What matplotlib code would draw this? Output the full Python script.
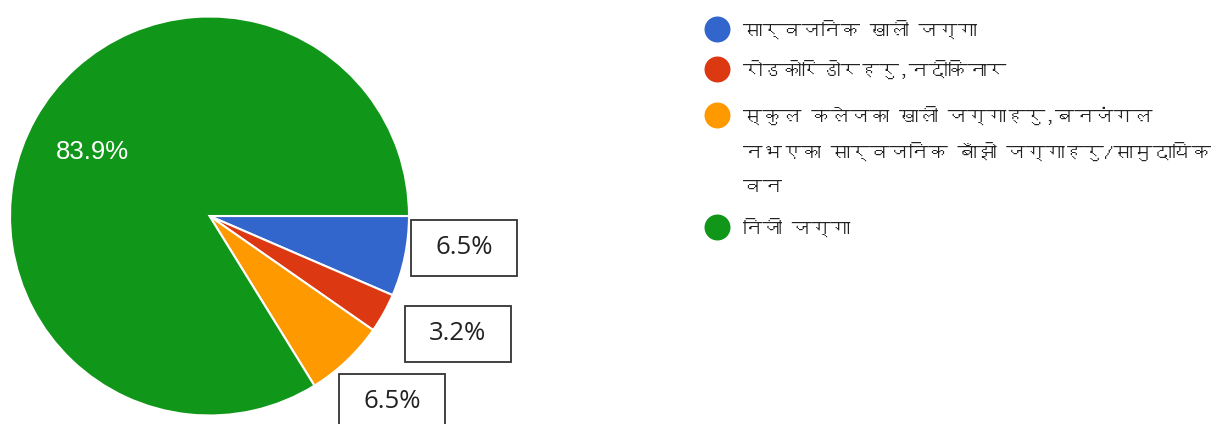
import matplotlib
matplotlib.use("Agg")
import matplotlib.pyplot as plt
from matplotlib.patches import Rectangle
from matplotlib import font_manager, ft2font

# ---- data ----
categories = [
    "सार्वजनिक खाली जग्गा",
    "रोडकोरिडोरहरु,नदीकिनार",
    "स्कुल कलेजका खाली जग्गाहरु,बनजंगल\nनभएका सार्वजनिक बाँझो जग्गाहरु/सामुदायिक\nवन",
    "निजी जग्गा",
]
values = [6.5, 3.2, 6.5, 83.9]
pct_labels = ["6.5%", "3.2%", "6.5%", "83.9%"]
colors = ["#3366CC", "#DC3912", "#FF9900", "#109618"]

# ---- find a font with Devanagari glyphs if any ----
deva = None
for f in font_manager.fontManager.ttflist:
    try:
        ft = ft2font.FT2Font(f.fname)
        if 0x0915 in ft.get_charmap():
            deva = f.name
            break
    except Exception:
        pass
legend_family = [deva, "DejaVu Sans"] if deva else ["DejaVu Sans"]

W, H = 1217, 424
fig = plt.figure(figsize=(W / 100, H / 100), dpi=100)

def fx(px):
    return px / W

def fy(py):
    return 1 - py / H

# pie axes
cx, cy, r = 209.5, 216, 199.5
ax = fig.add_axes([fx(cx - r), fy(cy + r), 2 * r / W, 2 * r / H])
wedges, _ = ax.pie(values, colors=colors, startangle=0, counterclock=False,
                   radius=1, wedgeprops=dict(edgecolor="white", linewidth=1.5))
ax.set_xlim(-1, 1)
ax.set_ylim(-1, 1)
ax.set_aspect("auto")
ax.axis("off")

# inside label for big slice
fig.text(fx(92), fy(152), pct_labels[3], color="white", fontsize=18.5,
         family="Liberation Sans", ha="center", va="center")

# boxed labels for small slices (box center positions in pixels)
box_pos = [(464, 248), (457.5, 334), (392, 402)]
bw, bh = 106, 56
for (bx, by), lab in zip(box_pos, pct_labels[:3]):
    fig.add_artist(Rectangle((fx(bx - bw / 2), fy(by + bh / 2)), bw / W, bh / H,
                             transform=fig.transFigure, facecolor="white",
                             edgecolor="#333333", linewidth=1.3))
    fig.text(fx(bx), fy(by), lab, color="#222222", fontsize=18.5,
             family="Open Sans", ha="center", va="center")

# legend
leg_y = [29, 69, 115, 227]
line_h = 36
for y, lab, c in zip(leg_y, categories, colors):
    fig.add_artist(plt.Line2D([fx(717)], [fy(y)], marker="o", markersize=18.7,
                              color=c, markeredgewidth=0,
                              transform=fig.transFigure))
    for i, line in enumerate(lab.split("\n")):
        fig.text(fx(743), fy(y + i * line_h), line, color="#222222",
                 fontsize=14, family=legend_family, ha="left", va="center")

fig.savefig("out.png", dpi=100, facecolor="white")
